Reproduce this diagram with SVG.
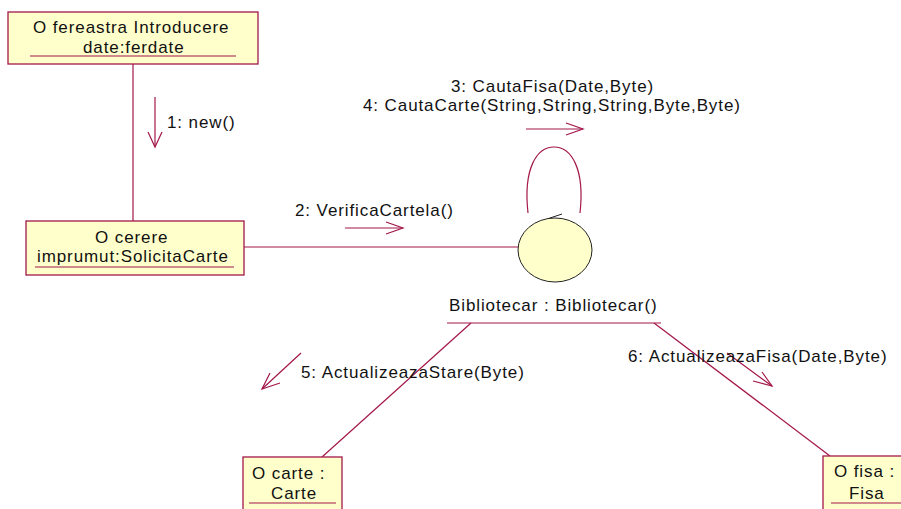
<svg xmlns="http://www.w3.org/2000/svg" width="901" height="509" viewBox="0 0 901 509">
<style>
.box{fill:#FFFFCC;stroke:#A3174A;stroke-width:1.3}
.ln{fill:none;stroke:#A3174A;stroke-width:1.2}
.ul{stroke:#A3174A;stroke-width:1.2}
.ar{fill:none;stroke:#A3174A;stroke-width:1.2}
text{font-family:"Liberation Sans",Arial,sans-serif;font-size:17px;fill:#111;letter-spacing:0.9px}
</style>
<rect width="901" height="509" fill="#FFFFFF"/>
<g id="connectors">
<line class="ln" x1="133" y1="64" x2="133" y2="221"/>
<line class="ln" x1="244" y1="247" x2="518" y2="247"/>
<path class="ln" d="M528,213 C523,168 537,147 554,147 C571,147 585,168 580,213"/>
<line class="ln" x1="471" y1="323" x2="322" y2="457"/>
<line class="ln" x1="654" y1="323" x2="830" y2="456"/>
<path fill="none" stroke="#222" stroke-width="1" d="M562,214 L547,219 L562,224"/>
<g id="msg1"><line class="ar" x1="155" y1="97" x2="155" y2="147"/><path class="ar" d="M148,132 L155,147 L162,132"/><text x="167" y="128">1: new()</text></g>
<g id="msg2"><line class="ar" x1="345" y1="228" x2="403" y2="228"/><path class="ar" d="M386,222 L403,228 L386,234"/><text x="295" y="216">2: VerificaCartela()</text></g>
<g id="msg34"><line class="ar" x1="526" y1="129" x2="583" y2="129"/><path class="ar" d="M566,123 L583,129 L566,135"/><text x="451" y="92">3: CautaFisa(Date,Byte)</text><text x="363" y="111">4: CautaCarte(String,String,String,Byte,Byte)</text></g>
<g id="msg5"><line class="ar" x1="301" y1="353" x2="262" y2="389"/><path class="ar" d="M270,373 L262,389 L280,383"/><text x="301" y="378">5: ActualizeazaStare(Byte)</text></g>
<g id="msg6"><line class="ar" x1="727" y1="353" x2="772" y2="386"/><path class="ar" d="M753,381 L772,386 L762,372"/><text x="628" y="362">6: ActualizeazaFisa(Date,Byte)</text></g>
</g>
<g id="fereastra">
<rect class="box" x="8" y="12" width="250" height="52"/>
<text x="33" y="33">O fereastra Introducere</text>
<text x="83" y="53">date:ferdate</text>
<line class="ul" x1="30" y1="56" x2="236" y2="56"/>
</g>
<g id="cerere">
<rect class="box" x="26" y="221" width="218" height="54"/>
<text x="95" y="243">O cerere</text>
<text x="37" y="262">imprumut:SolicitaCarte</text>
<line class="ul" x1="35" y1="267" x2="234" y2="267"/>
</g>
<g id="bibliotecar">
<ellipse cx="555" cy="250" rx="37" ry="32" fill="#FFFFCC" stroke="#222" stroke-width="1"/>
<text x="449" y="311">Bibliotecar : Bibliotecar()</text>
<line class="ul" x1="447" y1="323" x2="661" y2="323"/>
</g>
<g id="carte">
<rect class="box" x="243" y="457" width="99" height="60"/>
<text x="252" y="479">O carte :</text>
<text x="271" y="499">Carte</text>
<line class="ul" x1="249" y1="503" x2="336" y2="503"/>
</g>
<g id="fisa">
<rect class="box" x="823" y="456" width="90" height="60"/>
<text x="834" y="477">O fisa :</text>
<text x="849" y="499">Fisa</text>
<line class="ul" x1="831" y1="503" x2="901" y2="503"/>
</g>
</svg>
